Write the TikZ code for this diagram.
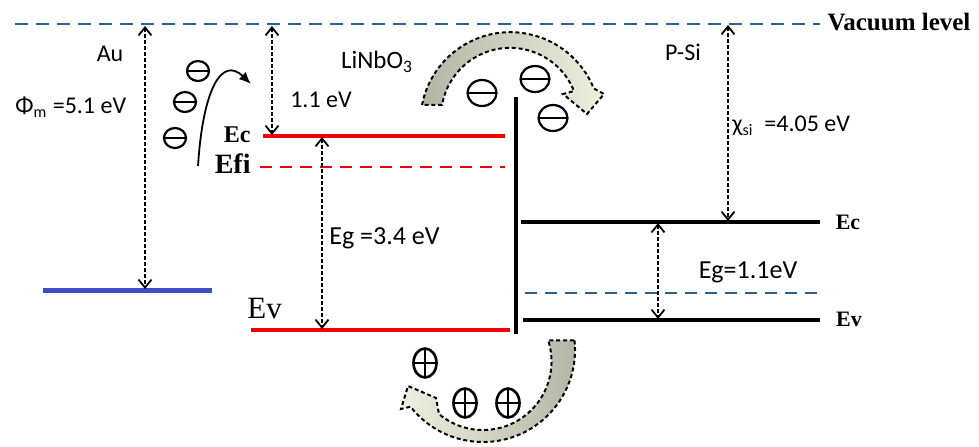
\documentclass[tikz,border=0pt]{standalone}
\usepackage{fontspec}
\setmainfont{Liberation Serif}
\newfontfamily\labfont{Carlito}
\usetikzlibrary{arrows.meta,shapes.geometric}
\definecolor{VacBlue}{HTML}{2F628F}
\definecolor{AuBlue}{HTML}{3F4FC6}
\definecolor{LNRed}{HTML}{F00000}
\definecolor{BandGray}{HTML}{B4B4A4}
\definecolor{BandCream}{HTML}{F0F0E0}

\begin{document}
\begin{tikzpicture}[x=0.5pt,y=-0.5pt,
    gap/.style={dash pattern=on 2pt off 1pt,line width=0.9pt,
      {Straight Barb[length=4pt,width=6.5pt]}-{Straight Barb[length=4pt,width=6.5pt]}},
    band/.style={draw=black,line width=1pt,dash pattern=on 2pt off 1.4pt},
    sans/.style={font=\labfont\fontsize{12}{14}\selectfont,inner sep=0pt},
    serif/.style={font=\fontsize{12}{14}\selectfont,inner sep=0pt},
    elec/.style={ellipse,draw,line width=1.1pt,inner sep=0pt,
      minimum width=14.5pt,minimum height=13pt,
      path picture={\draw[line width=1.1pt] (path picture bounding box.west)
        -- (path picture bounding box.east);}},
    hole/.style={ellipse,draw,line width=1.3pt,inner sep=0pt,
      minimum width=11.5pt,minimum height=14.5pt,
      path picture={\draw[line width=1.3pt] (path picture bounding box.west)
        -- (path picture bounding box.east) (path picture bounding box.north)
        -- (path picture bounding box.south);}}]
    \useasboundingbox (0,0) rectangle (979,446);

    % bent arrows behind the charges
    \path[band,left color=BandGray,right color=BandCream]
      (422,105) arc[start angle=191,end angle=338,radius=90]
      -- (604,94) -- (587,114) -- (563,94)
      -- (574,91) arc[start angle=338,end angle=190,radius=69] -- cycle;
    \path[band,left color=BandCream,right color=BandGray]
      (574.5,340.4) arc[start angle=-6,end angle=142,radius=92]
      -- (401,409) -- (408,386) -- (436,398)
      -- (439,414) arc[start angle=130,end angle=-18,radius=68.5] -- cycle;

    % levels
    \draw[VacBlue,line width=1.2pt,dash pattern=on 6.5pt off 4pt] (15,24) -- (820,24);
    \draw[AuBlue,line width=2.5pt] (43,290) -- (212,290);
    \draw[LNRed,line width=2pt] (263,136) -- (505,136);
    \draw[LNRed,line width=1.3pt,dash pattern=on 6pt off 4pt] (260,167) -- (505,167);
    \draw[LNRed,line width=2pt] (251,330) -- (510,330);
    \draw[line width=2.4pt] (516,97) -- (516,334);
    \draw[line width=1.7pt] (521,222) -- (820,222);
    \draw[line width=1.7pt] (523,320) -- (820,320);
    \draw[VacBlue,line width=1.2pt,dash pattern=on 6pt off 4pt] (525,293) -- (820,293);

    % ends of the gaps
    \coordinate (vacAu) at (145,26);   \coordinate (fermiAu) at (145,289);
    \coordinate (vacLN) at (272,26);   \coordinate (ecLN) at (272,135);
    \coordinate (ecLNb) at (322,137);  \coordinate (evLN) at (322,329);
    \coordinate (vacSi) at (728,25);   \coordinate (ecSi) at (728,221);
    \coordinate (ecSib) at (658,223);  \coordinate (evSi) at (658,319);
    \draw[gap] (vacAu) -- (fermiAu);
    \draw[gap] (vacLN) -- (ecLN);
    \draw[gap] (ecLNb) -- (evLN);
    \draw[gap] (vacSi) -- (ecSi);
    \draw[gap] (ecSib) -- (evSi);

    % injection
    \coordinate (injS) at (198,166);
    \coordinate (injE) at (251,84);
    \draw[line width=0.9pt,-{Latex[length=6pt,width=5pt]}] (injS)
      .. controls (203,88) and (222,56) .. (injE);

    % charges
    \node[elec,minimum width=11pt,minimum height=10pt] (e1) at (198,71) {};
    \node[elec,minimum width=11pt,minimum height=10pt] (e2) at (185,102) {};
    \node[elec,minimum width=11pt,minimum height=10pt] (e3) at (175,138) {};
    \node[elec] (e4) at (482,93) {};
    \node[elec] (e5) at (535,79) {};
    \node[elec] (e6) at (553,118) {};
    \node[hole] (h1) at (425,363) {};
    \node[hole] (h2) at (465,403) {};
    \node[hole] (h3) at (508,403) {};

    % labels
    \node[font=\bfseries\fontsize{12.5}{14}\selectfont,inner sep=0pt] (vac) at (899,22) {Vacuum level};
    \node[sans] (au) at (110,54) {Au};
    \node[sans,anchor=west] (phi) at (15,107) {Φ\textsubscript{m} =5.1 eV};
    \node[sans,font=\labfont\fontsize{12.5}{14}\selectfont] (lno) at (377,62) {LiNbO\textsubscript{3}};
    \node[sans] (chiLN) at (321,100) {1.1 eV};
    \node[serif,anchor=east,font=\bfseries\fontsize{12}{14}\selectfont] (ecL) at (251,135) {Ec};
    \node[serif,anchor=east,font=\bfseries\fontsize{14}{16}\selectfont] (efi) at (251,164) {Efi};
    \node[serif,anchor=west,font=\fontsize{15.5}{17}\selectfont] (evL) at (247,308) {Ev};
    \node[sans,font=\labfont\fontsize{13}{15}\selectfont,anchor=west] (egLN) at (329,238) {Eg =3.4 eV};
    \node[sans] (psi) at (683,52) {P-Si};
    \node[sans,anchor=west] (chiSi) at (732,126) {χ\textsubscript{si}\ \ =4.05 eV};
    \node[serif,font=\bfseries\fontsize{11}{13}\selectfont] (ecR) at (848,222) {Ec};
    \node[serif,font=\bfseries\fontsize{11}{13}\selectfont] (evR) at (849,319) {Ev};
    \node[sans,font=\labfont\fontsize{13}{15}\selectfont] (egSi) at (748,272) {Eg=1.1eV};
\end{tikzpicture}
\end{document}
